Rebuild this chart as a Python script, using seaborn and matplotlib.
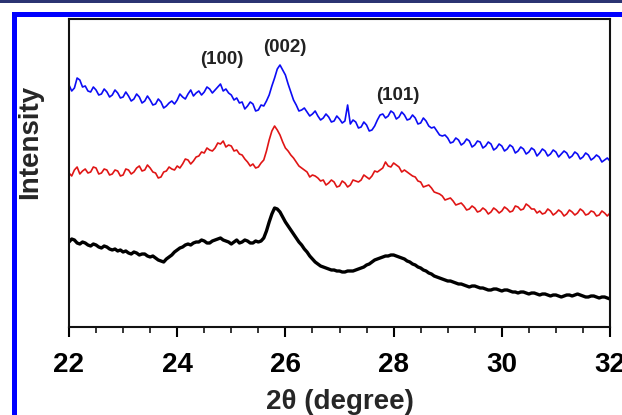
import numpy as np
import pandas as pd
import matplotlib
matplotlib.use("Agg")
import matplotlib.pyplot as plt
from matplotlib.patches import Rectangle
from matplotlib.ticker import MultipleLocator
import seaborn as sns

# 2-theta grid (degrees), 0.05 step; each row below = one degree (x.00 .. x.95)
two_theta = [round(22 + 0.05 * i, 2) for i in range(201)]

blue_counts = [
    242, 236, 239, 249, 247, 240, 241, 236, 235, 240, 237, 232, 233, 238, 235, 230, 232, 237, 234, 229,
    230, 235, 231, 226, 228, 233, 230, 224, 226, 231, 227, 222, 223, 228, 225, 219, 221, 224, 226, 223,
    227, 233, 230, 228, 233, 237, 231, 234, 236, 232, 235, 240, 238, 234, 237, 240, 243, 236, 238, 234,
    232, 227, 229, 224, 225, 218, 221, 225, 223, 216, 217, 222, 221, 226, 232, 241, 249, 258, 262, 257,
    252, 243, 235, 227, 222, 216, 217, 219, 215, 211, 213, 216, 211, 207, 209, 213, 210, 205, 206, 211,
    208, 204, 206, 222, 203, 207, 205, 199, 200, 205, 202, 196, 197, 201, 207, 212, 213, 209, 211, 216,
    214, 208, 210, 215, 212, 207, 208, 212, 209, 203, 204, 209, 206, 201, 199, 200, 196, 192, 191, 192,
    189, 184, 185, 189, 187, 182, 184, 188, 186, 180, 182, 186, 185, 179, 181, 185, 183, 177, 179, 183,
    181, 176, 178, 182, 180, 174, 176, 180, 178, 173, 175, 179, 177, 171, 174, 178, 176, 171, 173, 177,
    175, 170, 173, 176, 174, 169, 171, 175, 173, 168, 170, 174, 172, 167, 169, 172, 170, 165, 167, 169,
    166,
]

red_counts = [
    154, 151, 157, 160, 153, 156, 158, 154, 155, 160, 159, 153, 154, 158, 157, 152, 153, 157, 156, 151,
    152, 158, 157, 153, 155, 159, 161, 156, 157, 162, 159, 155, 154, 149, 150, 155, 156, 160, 158, 157,
    161, 159, 163, 168, 167, 163, 166, 170, 171, 175, 174, 179, 177, 176, 179, 184, 183, 186, 180, 182,
    181, 176, 177, 173, 172, 168, 165, 161, 163, 159, 160, 164, 167, 176, 187, 196, 201, 197, 192, 185,
    179, 176, 172, 169, 165, 161, 159, 157, 155, 150, 152, 151, 149, 146, 147, 142, 144, 147, 145, 140,
    141, 146, 144, 140, 142, 147, 146, 145, 147, 152, 150, 148, 151, 156, 155, 157, 159, 165, 161, 160,
    164, 162, 160, 155, 157, 155, 153, 151, 150, 146, 145, 140, 141, 142, 139, 135, 134, 133, 131, 127,
    128, 129, 126, 122, 123, 124, 121, 117, 118, 121, 119, 115, 116, 119, 117, 113, 115, 119, 117, 114,
    116, 120, 118, 115, 116, 121, 120, 117, 118, 123, 121, 118, 118, 114, 116, 113, 114, 118, 116, 112,
    114, 117, 115, 111, 113, 117, 115, 112, 114, 118, 116, 112, 113, 116, 115, 111, 112, 116, 114, 111,
    114,
]

black_counts = [
    85, 88, 87, 84, 83, 85, 84, 82, 81, 83, 82, 80, 79, 81, 80, 78, 77, 78, 76, 77,
    75, 76, 74, 73, 75, 74, 72, 73, 73, 71, 70, 71, 69, 67, 66, 65, 68, 70, 72, 75,
    77, 79, 80, 82, 83, 82, 84, 85, 85, 87, 86, 84, 84, 86, 87, 88, 89, 87, 86, 85,
    83, 85, 87, 84, 85, 87, 86, 84, 84, 86, 85, 86, 89, 96, 105, 113, 119, 118, 115, 110,
    105, 101, 97, 93, 89, 85, 82, 78, 75, 71, 68, 65, 63, 61, 60, 59, 58, 57, 57, 56,
    56, 55, 55, 56, 56, 56, 57, 58, 59, 60, 62, 63, 65, 67, 68, 69, 70, 71, 71, 72,
    72, 71, 70, 69, 68, 66, 65, 63, 62, 60, 59, 57, 56, 54, 53, 51, 50, 49, 48, 47,
    46, 46, 45, 44, 43, 43, 42, 41, 40, 41, 41, 40, 39, 39, 38, 37, 37, 38, 38, 37,
    36, 37, 37, 36, 35, 35, 34, 35, 35, 34, 33, 34, 34, 33, 32, 33, 33, 32, 31, 32,
    32, 31, 30, 31, 32, 32, 31, 32, 33, 32, 31, 30, 30, 31, 31, 30, 29, 30, 30, 29,
    28,
]

peak_labels = ["(100)", "(002)", "(101)"]
peak_x = [24.83, 25.99, 28.08]
peak_y = [267, 280, 232]

x_ticks = [22, 24, 26, 28, 30, 32]

sns.set_theme(style="ticks")
plt.rcParams["font.family"] = ["Liberation Sans", "DejaVu Sans"]
plt.rcParams["font.weight"] = "bold"

fig = plt.figure(figsize=(6.22, 4.15), dpi=100)
ax = fig.add_axes([69 / 622, 1 - 327 / 415, (610 - 69) / 622, (327 - 19) / 415])

df = pd.DataFrame({"x": two_theta, "blue": blue_counts,
                   "red": red_counts, "black": black_counts})
sns.lineplot(data=df, x="x", y="blue", ax=ax, color="#0c0cf5", linewidth=1.2)
sns.lineplot(data=df, x="x", y="red", ax=ax, color="#e01515", linewidth=1.2)
sns.lineplot(data=df, x="x", y="black", ax=ax, color="black", linewidth=2.4)

for lab, px, py in zip(peak_labels, peak_x, peak_y):
    ax.text(px, py, lab, ha="center", va="center", fontsize=13.5,
            fontweight="bold", color="#222222")

ax.set_xlim(22, 32)
ax.set_ylim(0, 308)
ax.set_xticks(x_ticks)
ax.xaxis.set_minor_locator(MultipleLocator(0.5))
ax.set_yticks([])
ax.tick_params(axis="x", which="major", direction="out", length=7, width=1.5,
               labelsize=20, pad=11, colors="black")
ax.tick_params(axis="x", which="minor", direction="out", length=4, width=1.3)
for lbl in ax.get_xticklabels():
    lbl.set_fontweight("bold")
for sp in ax.spines.values():
    sp.set_visible(True)
    sp.set_linewidth(1.5)
    sp.set_color("#111111")

ax.set_xlabel("2θ (degree)", fontsize=20, fontweight="bold", labelpad=8)
ax.set_ylabel("Intensity", fontsize=20, fontweight="bold")
ax.yaxis.set_label_coords((30 - 69) / 541, (327 - 142) / 308)
ax.yaxis.label.set_verticalalignment("center")

# frame decorations of the original figure
W, H = 622, 415
fig.add_artist(Rectangle((0, 1 - 3 / H), 1, 3 / H, transform=fig.transFigure,
                         facecolor="#2b3472", edgecolor="none"))
fig.add_artist(Rectangle((12 / W, 0), 5 / W, 1 - 12 / H, transform=fig.transFigure,
                         facecolor="#0000ff", edgecolor="none"))
fig.add_artist(Rectangle((12 / W, 1 - 17 / H), 1, 5 / H, transform=fig.transFigure,
                         facecolor="#0000ff", edgecolor="none"))

fig.savefig("out.png", dpi=100)
